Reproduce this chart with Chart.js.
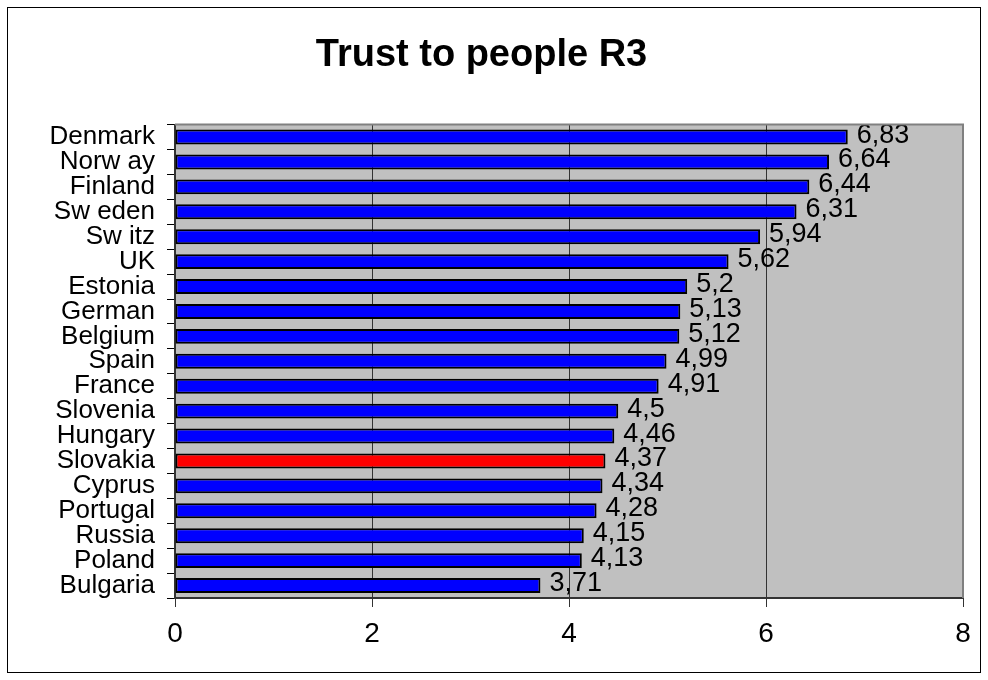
<!DOCTYPE html>
<html>
<head>
<meta charset="utf-8">
<script src="https://cdn.jsdelivr.net/npm/chart.js@4"></script>
<style>
  html, body { margin: 0; padding: 0; background: #fff; }
  #wrap { width: 988px; height: 680px; }
</style>
</head>
<body>
<div id="wrap"><canvas id="chart"></canvas></div>
<script>
// data
const countries = ['Denmark', 'Norw ay', 'Finland', 'Sw eden', 'Sw itz', 'UK', 'Estonia', 'German', 'Belgium', 'Spain',
  'France', 'Slovenia', 'Hungary', 'Slovakia', 'Cyprus', 'Portugal', 'Russia', 'Poland', 'Bulgaria'];
const trust = [6.83, 6.64, 6.44, 6.31, 5.94, 5.62, 5.2, 5.13, 5.12, 4.99, 4.91, 4.5, 4.46, 4.37, 4.34, 4.28, 4.15, 4.13, 3.71];
const highlight = 'Slovakia';
const xTicks = [0, 2, 4, 6, 8];

const FONT = 'Arial, "Liberation Sans", sans-serif';

// gray plot area + frame
const plotBg = {
  id: 'plotBg',
  beforeDraw(chart) {
    const { ctx, chartArea: a } = chart;
    ctx.save();
    ctx.fillStyle = '#c0c0c0';
    ctx.fillRect(a.left, a.top, a.right - a.left, a.bottom - a.top);
    ctx.restore();
  },
  afterDraw(chart) {
    const { ctx, chartArea: a, width, height } = chart;
    ctx.save();
    ctx.strokeStyle = '#808080';
    ctx.lineWidth = 2;
    ctx.beginPath();
    ctx.moveTo(a.left, a.top);
    ctx.lineTo(a.right, a.top);
    ctx.lineTo(a.right, a.bottom);
    ctx.stroke();
    ctx.strokeStyle = '#000';
    ctx.lineWidth = 1;
    ctx.strokeRect(7.5, 7.5, width - 15, height - 15);
    ctx.restore();
  }
};

// value labels after each bar
const valueLabels = {
  id: 'valueLabels',
  afterDatasetsDraw(chart) {
    const { ctx } = chart;
    const meta = chart.getDatasetMeta(0);
    ctx.save();
    ctx.font = '27px ' + FONT;
    ctx.fillStyle = '#000';
    ctx.textAlign = 'left';
    ctx.textBaseline = 'middle';
    meta.data.forEach((bar, i) => {
      ctx.fillText(String(trust[i]).replace('.', ','), bar.x + 9, bar.y - 2);
    });
    ctx.restore();
  }
};

new Chart(document.getElementById('chart'), {
  type: 'bar',
  data: {
    labels: countries,
    datasets: [{
      data: trust,
      backgroundColor: countries.map(c => c === highlight ? '#ff0000' : '#0000ff'),
      borderColor: '#000',
      borderWidth: 2,
      borderSkipped: false,
      barPercentage: 0.6,
      categoryPercentage: 1
    }]
  },
  options: {
    indexAxis: 'y',
    responsive: true, maintainAspectRatio: false,
    animation: false,
    layout: { padding: { left: 0, right: 25, top: 0, bottom: 0 } },
    plugins: {
      legend: { display: false },
      tooltip: { enabled: false },
      title: {
        display: true,
        text: 'Trust to people R3',
        color: '#000',
        font: { family: FONT, size: 38, weight: 'bold' },
        padding: { top: 33, bottom: 46 }
      }
    },
    scales: {
      x: {
        min: 0, max: 8,
        afterBuildTicks: s => { s.ticks = xTicks.map(v => ({ value: v })); },
        grid: { color: '#333', lineWidth: 1, tickLength: 9 },
        border: { color: '#333', width: 2 },
        ticks: { color: '#000', font: { family: FONT, size: 28 }, padding: 10 },
        afterFit: s => { s.height = 82; }
      },
      y: {
        grid: { offset: true, drawOnChartArea: false, color: '#000', tickLength: 8 },
        border: { color: '#333', width: 2 },
        ticks: { color: '#000', font: { family: FONT, size: 26 }, padding: 12, autoSkip: false },
        afterFit: s => { s.width = 175; }
      }
    }
  },
  plugins: [plotBg, valueLabels]
});
</script>
</body>
</html>
